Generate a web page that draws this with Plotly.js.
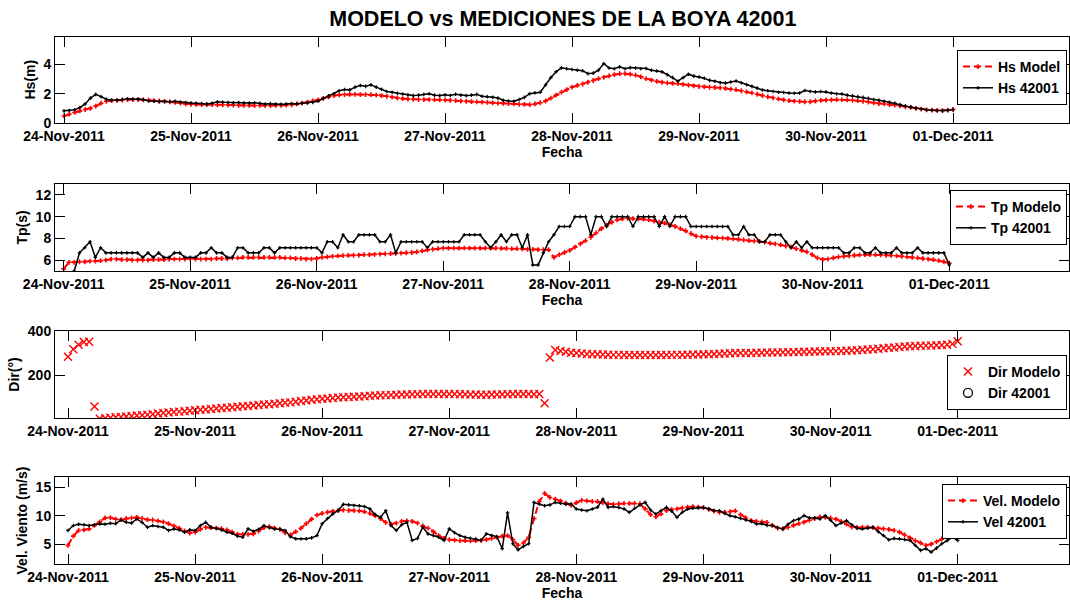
<!DOCTYPE html>
<html>
<head>
<meta charset="utf-8">
<script src="https://cdn.plot.ly/plotly-3.0.1.min.js"></script>
<style>html,body{margin:0;padding:0;background:#fff;}#chart{width:1070px;height:601px;}</style>
</head>
<body>
<div id="chart"></div>
<script>
// ---- DATA (hourly, 24-Nov-2011 00:00 to 01-Dec-2011 00:00) ----
const startDate = Date.UTC(2011, 10, 24);
const stepHours = 1;
const dayTicks = ['2011-11-24','2011-11-25','2011-11-26','2011-11-27','2011-11-28','2011-11-29','2011-11-30','2011-12-01'];

const hsModel = [
0.48,0.6,0.72,0.83,0.92,1.0,1.15,1.35,1.48,1.52,1.55,1.57,1.6,1.6,1.6,1.58,1.56,1.52,1.5,1.48,1.45,1.4,1.35,1.3,
1.28,1.27,1.25,1.26,1.25,1.24,1.24,1.22,1.22,1.21,1.2,1.2,1.19,1.2,1.19,1.18,1.2,1.2,1.22,1.24,1.3,1.36,1.42,1.5,
1.58,1.68,1.78,1.87,1.92,1.94,1.95,1.95,1.94,1.94,1.93,1.9,1.87,1.82,1.76,1.7,1.66,1.63,1.62,1.6,1.6,1.6,1.59,1.58,
1.57,1.55,1.53,1.5,1.48,1.46,1.44,1.42,1.4,1.37,1.35,1.34,1.32,1.3,1.28,1.27,1.25,1.3,1.38,1.5,1.7,1.9,2.1,2.28,
2.45,2.56,2.66,2.78,2.9,3.02,3.12,3.22,3.3,3.36,3.37,3.33,3.26,3.15,3.02,2.92,2.84,2.78,2.74,2.7,2.68,2.63,2.58,2.53,
2.49,2.46,2.44,2.42,2.4,2.36,2.31,2.27,2.2,2.12,2.05,1.96,1.87,1.79,1.72,1.64,1.58,1.52,1.49,1.47,1.45,1.45,1.5,1.54,
1.57,1.58,1.59,1.59,1.58,1.55,1.52,1.48,1.42,1.37,1.33,1.3,1.26,1.22,1.17,1.11,1.06,1.0,0.95,0.9,0.88,0.86,0.85,0.88,0.92];

const hsBuoy = [
0.83,0.85,0.9,1.05,1.3,1.7,1.95,1.8,1.62,1.55,1.55,1.6,1.65,1.62,1.64,1.6,1.5,1.48,1.46,1.47,1.45,1.48,1.43,1.4,
1.36,1.34,1.33,1.3,1.35,1.45,1.42,1.4,1.38,1.4,1.37,1.36,1.38,1.34,1.3,1.32,1.29,1.28,1.3,1.33,1.3,1.35,1.36,1.4,
1.48,1.68,1.85,1.99,2.2,2.28,2.26,2.45,2.56,2.5,2.6,2.45,2.3,2.15,2.1,2.02,1.98,1.92,1.87,1.9,1.95,1.99,1.9,1.87,
1.92,1.88,1.96,1.9,1.87,1.9,1.95,1.82,1.8,1.76,1.7,1.55,1.5,1.48,1.6,1.75,2.0,2.06,2.1,2.6,3.1,3.5,3.76,3.7,
3.65,3.6,3.56,3.37,3.4,3.6,4.06,3.75,3.7,3.83,3.7,3.78,3.75,3.7,3.72,3.6,3.55,3.49,3.3,3.1,2.85,3.1,3.33,3.2,
3.14,3.05,2.91,2.85,2.75,2.72,2.8,2.86,2.75,2.62,2.5,2.38,2.25,2.2,2.15,2.1,2.08,2.05,2.03,2.05,2.22,2.15,2.12,2.15,
2.12,2.05,2.0,1.98,1.9,1.85,1.8,1.75,1.68,1.6,1.55,1.48,1.42,1.35,1.25,1.15,1.08,1.0,0.95,0.9,0.87,0.85,0.83,0.86,0.92];

const tpModel = [
5.2,5.8,5.8,5.85,5.85,5.9,5.9,5.95,6.0,6.1,6.1,6.05,6.05,6.0,6.0,6.0,6.0,6.05,6.05,6.05,6.1,6.1,6.1,6.1,
6.1,6.1,6.1,6.1,6.1,6.15,6.15,6.15,6.2,6.2,6.25,6.25,6.25,6.25,6.25,6.25,6.25,6.25,6.2,6.2,6.15,6.15,6.1,6.1,
6.15,6.25,6.3,6.35,6.4,6.42,6.43,6.45,6.45,6.5,6.5,6.53,6.56,6.58,6.6,6.62,6.65,6.68,6.7,6.75,6.85,6.95,7.0,7.05,
7.1,7.1,7.1,7.1,7.1,7.1,7.1,7.1,7.1,7.1,7.1,7.08,7.08,7.05,7.05,7.03,7.0,6.98,6.96,6.96,6.96,6.25,6.5,6.7,
6.9,7.2,7.5,7.8,8.1,8.5,8.9,9.2,9.5,9.7,9.8,9.85,9.82,9.8,9.78,9.7,9.6,9.5,9.4,9.25,9.1,8.9,8.7,8.45,
8.2,8.15,8.1,8.08,8.05,8.02,8.0,7.95,7.9,7.85,7.8,7.76,7.72,7.65,7.55,7.5,7.4,7.3,7.2,7.05,6.9,6.75,6.5,6.2,
6.06,6.1,6.2,6.3,6.35,6.4,6.45,6.48,6.5,6.5,6.5,6.48,6.45,6.43,6.4,6.35,6.3,6.25,6.2,6.15,6.1,6.05,5.95,5.85,5.72];

const tpBuoy = [
4.55,4.76,5.0,6.67,7.14,7.69,6.25,7.14,6.67,6.67,6.67,6.67,6.67,6.67,6.67,6.25,6.67,6.25,6.67,6.25,6.25,6.67,6.67,6.25,
6.25,6.25,6.67,6.67,7.14,6.67,6.67,6.25,6.25,7.14,7.14,6.67,6.67,6.67,7.14,7.14,6.67,7.14,7.14,7.14,7.14,7.14,7.14,7.14,
7.14,6.67,7.69,7.69,7.14,8.33,7.69,7.69,8.33,8.33,8.33,8.33,7.69,7.69,8.33,6.67,7.69,7.69,7.69,7.69,7.69,7.14,7.69,7.69,
7.69,7.69,7.69,7.69,8.33,8.33,8.33,8.33,7.69,7.14,7.69,8.33,7.69,8.33,8.33,7.14,8.33,5.56,5.56,6.67,7.69,8.33,9.09,9.09,
9.09,10.0,10.0,10.0,8.33,10.0,10.0,9.09,10.0,10.0,10.0,10.0,9.09,10.0,10.0,10.0,10.0,9.09,10.0,9.09,10.0,10.0,10.0,9.09,
9.09,9.09,9.09,9.09,9.09,9.09,9.09,8.33,8.33,9.09,8.33,8.33,7.69,7.69,8.33,8.33,8.33,7.69,7.14,7.69,7.14,7.69,7.14,7.14,
7.14,7.14,7.14,7.14,6.67,6.67,7.14,7.14,6.67,6.67,7.14,6.67,6.67,6.67,7.14,6.67,6.67,6.67,7.14,6.67,6.67,6.67,6.67,6.67,5.56];

const dirModel = [
283,318,338,350,352,57,2,4,6,8,10,12,14,16,18,20,22,25,28,30,32,34,36,38,
40,42,44,46,48,50,52,54,56,58,60,62,64,66,68,70,72,74,76,79,82,85,88,90,
92,94,96,98,99,100,102,103,104,106,107,108,109,110,111,112,112,113,113,114,114,114,114,114,
114,114,113,113,112,112,111,111,112,112,113,113,114,114,114,114,113,114,72,280,314,310,306,302,
300,298,296,295,295,294,293,292,292,291,291,291,291,291,291,291,291,291,292,292,293,293,294,294,
295,295,296,297,298,299,300,300,301,301,302,302,303,303,303,304,304,305,305,306,306,307,307,308,
308,309,310,311,312,313,315,316,318,320,322,324,326,328,330,331,332,333,334,335,336,337,338,342,354];

// the buoy reported no direction for this period (missing reading)
const dirBuoy = [null];

const velModel = [
4.77,6.4,7.4,7.5,7.67,8.3,8.9,9.6,9.65,9.4,9.3,9.5,9.6,9.7,9.5,9.3,9.24,9.1,8.9,8.6,8.2,7.8,7.3,6.95,
7.1,7.6,7.95,7.9,7.8,7.7,7.5,7.1,6.75,6.7,6.7,6.8,7.3,7.9,8.05,7.8,7.6,7.0,6.6,7.2,7.8,8.6,9.4,10.1,
10.4,10.6,10.8,10.9,11.0,10.9,10.9,10.85,10.7,10.4,10.0,9.5,8.8,8.5,8.7,9.0,9.1,9.0,8.7,8.2,7.8,7.2,6.5,6.0,
5.8,5.7,5.6,5.6,5.55,5.6,5.65,5.8,6.0,6.2,6.4,6.5,5.8,4.8,5.2,6.2,9.5,12.5,13.9,13.2,12.9,12.6,12.2,11.8,
12.3,12.7,12.6,12.5,12.5,12.3,12.1,12.0,12.1,12.15,12.15,12.15,12.1,11.2,10.2,9.8,10.3,10.9,11.1,11.2,11.35,11.5,11.6,11.5,
11.4,11.1,10.8,10.6,10.6,10.7,10.85,10.2,9.6,9.13,9.0,8.9,8.8,8.3,7.8,7.7,7.95,8.3,8.6,8.85,9.2,9.5,9.8,9.7,
9.6,9.4,9.0,8.5,8.0,7.95,7.95,7.97,7.9,7.8,7.7,7.6,7.4,7.1,6.6,6.1,5.6,5.2,4.77,5.0,5.4,5.9,6.3,6.6,6.92];

const velBuoy = [
7.4,8.26,8.5,8.4,8.26,8.4,8.55,8.5,8.66,8.6,9.24,8.84,8.7,9.42,8.8,7.97,8.26,8.1,7.97,7.4,7.67,7.5,7.1,7.5,
7.4,8.26,8.84,7.97,7.8,7.5,7.1,6.9,6.4,6.2,7.67,7.27,7.6,8.26,7.9,7.67,7.6,7.4,6.3,5.93,5.93,5.93,6.1,6.5,
8.6,9.5,10.3,10.9,12.0,11.9,11.8,11.74,11.6,11.2,10.2,9.7,10.87,8.26,7.4,8.4,8.84,5.64,6.0,7.97,6.8,6.5,6.2,5.64,
7.67,7.0,6.5,6.2,6.0,5.93,5.64,6.8,6.5,6.3,4.19,10.5,5.06,4.0,4.6,5.06,12.33,12.03,11.74,11.9,12.33,12.2,12.03,12.1,
11.16,11.0,10.87,11.16,11.5,12.9,11.45,11.6,11.45,11.2,10.58,11.3,11.9,12.33,11.0,10.29,10.9,11.45,10.8,9.7,10.6,11.16,11.3,11.4,
11.45,11.2,10.9,10.87,10.4,10.0,9.8,9.5,9.24,9.0,8.55,8.6,8.3,8.26,7.9,7.67,8.5,9.13,9.4,10.0,9.6,9.6,9.42,10.0,
9.2,8.26,8.7,9.13,8.4,7.8,7.67,7.8,7.97,7.2,6.5,5.76,6.0,5.93,5.8,5.64,4.8,3.9,4.2,3.6,4.3,5.06,5.6,6.2,5.64];

// ---- BUILD ----
const HOUR = 3600000, DAY = 86400000;
const fecha = hsModel.map((_, i) => startDate + i * stepHours * HOUR);
const FONT = 'Liberation Sans, Arial, sans-serif';
const bold = (s) => ({family: FONT, size: s, color: '#000', weight: 'bold'});

const modelLine = {color: '#ff0000', width: 2, dash: '7px,4px'};
const modelMarker = {symbol: 'cross', size: 4, color: '#ff0000'};
const buoyLine = {color: '#000', width: 1.5};
const buoyMarker = {symbol: 'cross', size: 3, color: '#000'};

const traces = [
  {x: fecha, y: hsModel, name: 'Hs Model', mode: 'lines+markers', line: modelLine, marker: modelMarker, xaxis: 'x', yaxis: 'y', legend: 'legend'},
  {x: fecha, y: hsBuoy, name: 'Hs 42001', mode: 'lines+markers', line: buoyLine, marker: buoyMarker, xaxis: 'x', yaxis: 'y', legend: 'legend'},
  {x: fecha, y: tpModel, name: 'Tp Modelo', mode: 'lines+markers', line: modelLine, marker: modelMarker, xaxis: 'x2', yaxis: 'y2', legend: 'legend2'},
  {x: fecha, y: tpBuoy, name: 'Tp 42001', mode: 'lines+markers', line: buoyLine, marker: buoyMarker, xaxis: 'x2', yaxis: 'y2', legend: 'legend2'},
  {x: fecha, y: dirModel, name: 'Dir Modelo', mode: 'markers', marker: {symbol: 'x-thin', size: 8, line: {color: '#ff0000', width: 1.4}, color: '#ff0000'}, xaxis: 'x3', yaxis: 'y3', legend: 'legend3'},
  {x: dirBuoy.map((_, i) => fecha[i]), y: dirBuoy, name: 'Dir 42001', mode: 'markers', marker: {symbol: 'circle-open', size: 9, color: '#000', line: {width: 1.3}}, xaxis: 'x3', yaxis: 'y3', legend: 'legend3', showlegend: true},
  {x: fecha, y: velModel, name: 'Vel. Modelo', mode: 'lines+markers', line: modelLine, marker: modelMarker, xaxis: 'x4', yaxis: 'y4', legend: 'legend4'},
  {x: fecha, y: velBuoy, name: 'Vel 42001', mode: 'lines+markers', line: buoyLine, marker: buoyMarker, xaxis: 'x4', yaxis: 'y4', legend: 'legend4'}
];

const H = 601;
const dom = (top, bottom) => [1 - bottom / H, 1 - top / H];

function xax(anchor, l, r, withTitle) {
  return {
    anchor: anchor, domain: [0, 1], type: 'date',
    range: [startDate + l * DAY, startDate + r * DAY],
    tickmode: 'array', tickvals: dayTicks.map(d => d + ' 00:00'), tickformat: '%d-%b-%Y',
    ticks: 'inside', ticklen: 10, tickwidth: 1, tickcolor: '#000',
    showline: true, linecolor: '#000', linewidth: 1, mirror: 'ticks',
    showgrid: false, zeroline: false, tickfont: bold(14),
    title: withTitle ? {text: 'Fecha', font: bold(14), standoff: 4} : {text: ''}
  };
}
function yax(anchor, domain, range, dtick, title) {
  return {
    anchor: anchor, domain: domain, range: range, dtick: dtick,
    ticks: 'inside', ticklen: 10, tickwidth: 1, tickcolor: '#000',
    showline: true, linecolor: '#000', linewidth: 1, mirror: 'ticks',
    showgrid: false, zeroline: false, tickfont: bold(14),
    title: {text: title, font: bold(14), standoff: 4}
  };
}
function leg(topPx) {
  return {x: 0.998, xanchor: 'right', y: 1 - topPx / H, yanchor: 'top', xref: 'paper', yref: 'paper',
    bgcolor: '#fff', bordercolor: '#000', borderwidth: 1, font: bold(14), traceorder: 'normal',
    tracegroupgap: 0, itemwidth: 30};
}

const layout = {
  width: 1070, height: 601,
  margin: {l: 55, r: 1, t: 0, b: 0},
  paper_bgcolor: '#fff', plot_bgcolor: '#fff',
  font: {family: FONT, color: '#000'},
  title: {text: 'MODELO vs MEDICIONES DE LA BOYA 42001', font: bold(21.5), x: 0.526, xref: 'container', xanchor: 'center', y: 1 - 18 / H, yanchor: 'middle'},
  showlegend: true,
  xaxis: xax('y', -0.0709, 7.913, true),
  xaxis2: xax('y2', -0.0688, 7.947, true),
  xaxis3: xax('y3', -0.1023, 7.876, false),
  xaxis4: xax('y4', -0.1023, 7.876, true),
  yaxis: yax('x', dom(36.5, 123), [0, 5.9], 2, 'Hs(m)'),
  yaxis2: yax('x2', dom(184, 271), [5, 13], 2, 'Tp(s)'),
  yaxis3: yax('x3', dom(331, 418), [5, 400.5], 200, 'Dir(°)'),
  yaxis4: yax('x4', dom(477, 564), [1.5, 16.8], 5, 'Vel. Viento (m/s)'),
  legend: leg(50), legend2: leg(190), legend3: leg(355), legend4: leg(484)
};

Plotly.newPlot('chart', traces, layout, {staticPlot: true, displayModeBar: false});
</script>
</body>
</html>
